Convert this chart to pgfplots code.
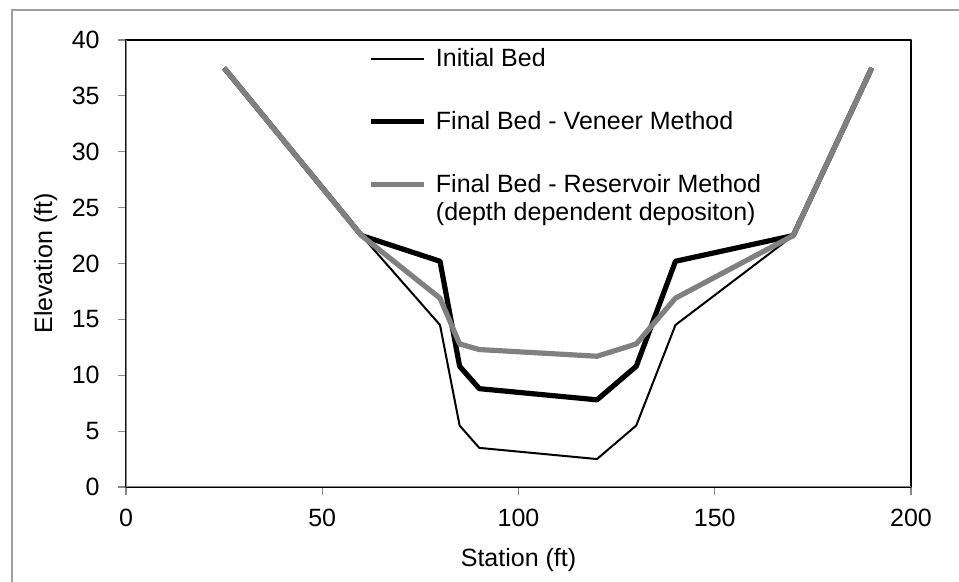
\documentclass[border=0pt]{standalone}
\usepackage{fontspec}
\setmainfont{Liberation Sans}
\usepackage{pgfplots}
\pgfplotsset{compat=1.18}
\definecolor{axgray}{RGB}{134,134,134}
\definecolor{resgray}{RGB}{128,128,128}
\definecolor{bordergray}{RGB}{160,160,160}
\begin{document}
\begin{tikzpicture}
\useasboundingbox (-63pt,-47.5pt) rectangle (416.5pt,243.5pt);
\draw[bordergray, line width=0.6pt] (-57pt,-60pt) -- (-57pt,238.5pt) -- (430pt,238.5pt);
\begin{axis}[
  scale only axis,
  width=392.5pt, height=223.5pt,
  xmin=0, xmax=200, ymin=0, ymax=40,
  xtick={0,50,...,200}, ytick={0,5,...,40},
  xtick pos=left, ytick pos=left,
  tick align=outside, major tick length=4pt,
  tick style={axgray, line width=0.6pt},
  axis line style={black, line width=0.6pt},
  /pgf/number format/assume math mode=true,
  font=\fontsize{12.5}{14.2}\selectfont,
  ticklabel style={font=\fontsize{12.5}{14.2}\selectfont},
  xticklabel style={anchor=base, inner sep=0pt, yshift=-16pt},
  yticklabel style={anchor=east, inner sep=0pt, xshift=-9pt},
  every axis x label/.style={at={(rel axis cs:0.5,0)}, anchor=base, yshift=-40pt},
  every axis y label/.style={at={(rel axis cs:0,0.5)}, rotate=90, anchor=base, yshift=36.9pt},
  xlabel={Station (ft)}, ylabel={Elevation (ft)},
  legend image code/.code={\draw[#1] (0pt,4pt) -- (26.7pt,4pt);},
  legend style={draw=none, fill=none, inner sep=0pt, outer sep=0pt,
    at={(rel axis cs:0.3087,1)}, anchor=north west, yshift=-1.4pt,
    row sep=16pt, column sep=2.5pt,
    cells={anchor=base west, inner sep=0pt},
    font=\fontsize{12.5}{14.2}\selectfont},
  line join=round,
]
\addplot[black, line width=1pt] coordinates {
(25,37.5) (60,22.5) (80,14.5) (85,5.5) (90,3.5) (120,2.5) (130,5.5) (140,14.5) (170,22.5) (190,37.5)};
\addlegendentry{\strut Initial Bed}
\addplot[black, line width=2.6pt] coordinates {
(25,37.5) (60,22.5) (80,20.2) (85,10.8) (90,8.8) (120,7.8) (130,10.8) (140,20.2) (170,22.5) (190,37.5)};
\addlegendentry{\strut Final Bed - Veneer Method}
\addplot[resgray, line width=2.6pt] coordinates {
(25,37.5) (60,22.5) (80,16.9) (85,12.8) (90,12.3) (120,11.7) (130,12.8) (140,16.9) (170,22.5) (190,37.5)};
\addlegendentry{\begin{tabular}[t]{@{}l@{}}Final Bed - Reservoir Method\\(depth dependent depositon)\end{tabular}}
\draw[axgray, line width=1pt] (rel axis cs:0,0) -- (rel axis cs:1,0);
\draw[axgray, line width=1pt] (rel axis cs:0,0) -- (rel axis cs:0,1);
\end{axis}
\end{tikzpicture}
\end{document}
